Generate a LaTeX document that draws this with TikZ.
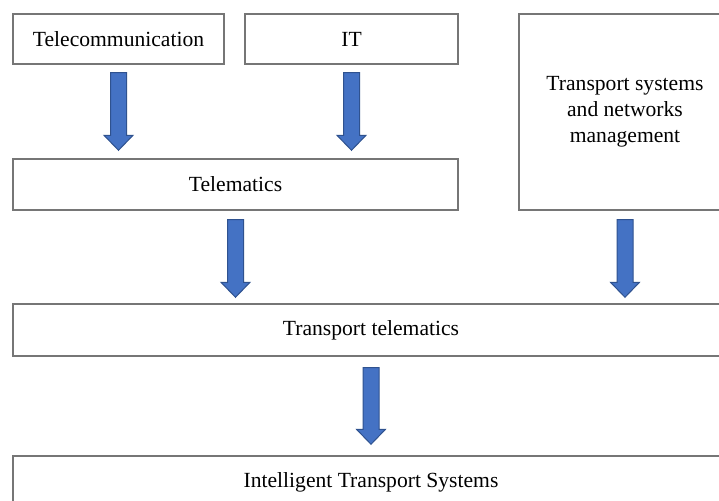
\documentclass[tikz,border=0pt]{standalone}
\usepackage{fontspec}
\setmainfont{Liberation Serif}
\usetikzlibrary{calc,positioning}
\definecolor{box_gray}{RGB}{118,118,118}
\definecolor{arrow_blue}{RGB}{68,114,196}
\definecolor{arrow_edge}{RGB}{47,82,143}

\tikzset{
  box/.style={draw=box_gray, line width=0.7pt, fill=white, inner sep=0pt, align=center},
  blockarrow/.style={draw=arrow_edge, fill=arrow_blue, line width=0.5pt,
    to path={let \p1=(\tikztostart), \p2=(\tikztotarget) in
      (\x1-4pt,\y1) -- (\x1+4pt,\y1) -- (\x1+4pt,\y2+7.5pt) -- (\x1+7.25pt,\y2+7.5pt)
      -- (\x1,\y2) -- (\x1-7.25pt,\y2+7.5pt) -- (\x1-4pt,\y2+7.5pt) -- cycle}}
}

\begin{document}
\begin{tikzpicture}[x=0.5pt, y=-0.5pt, font=\fontsize{10.8}{13}\selectfont]
        \clip (0,0) rectangle (719,501);
        \fill[white] (0,0) rectangle (719,501);
        \node[box, minimum width=105.5pt, minimum height=25pt] (tele) at (118.5,39) {Telecommunication};
        \node[box, minimum width=106.5pt, minimum height=25pt] (it) at (351.5,39) {IT};
        \node[box, minimum width=106pt, minimum height=98pt] (tsnm) at (625,112)
          {Transport systems\\and networks\\management};
        \node[box, minimum width=222.5pt, minimum height=25.5pt] (telem) at (235.5,184.5) {Telematics};
        \node[box, minimum width=358pt, minimum height=26pt] (tt) at (371,330) {Transport telematics};
        \node[box, minimum width=358pt, minimum height=26pt] (its) at (371,482) {Intelligent Transport Systems};
        \draw[blockarrow] ([yshift=-4pt]tele.south) to ([yshift=4pt]telem.north -| tele.south);
        \draw[blockarrow] ([yshift=-4pt]it.south) to ([yshift=4pt]telem.north -| it.south);
        \draw[blockarrow] ([yshift=-4.5pt]telem.south) to ([yshift=3pt]tt.north -| telem.south);
        \draw[blockarrow] ([yshift=-4.5pt]tsnm.south) to ([yshift=3pt]tt.north -| tsnm.south);
        \draw[blockarrow] ([yshift=-5.5pt]tt.south) to ([yshift=5.5pt]its.north);
      \end{tikzpicture}
\end{document}
